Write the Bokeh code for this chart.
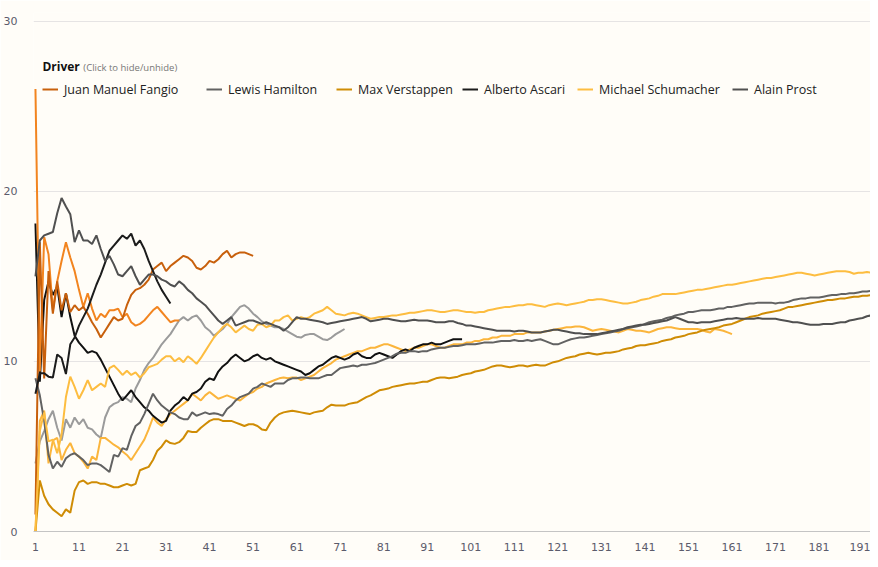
from bokeh.plotting import figure
from bokeh.models import FixedTicker, Label, Legend
from bokeh.embed import file_html
from bokeh.resources import INLINE

# ---- data: one value per race (race number = position in list, starting at 1) ----
fangio = [1.0, 17.0, 9.0, 15.3, 12.8, 14.7, 13.0, 14.0, 12.9, 13.3,
          13.0, 13.2, 12.8, 12.3, 11.9, 11.4, 11.8, 12.2, 12.6, 12.4,
          12.5, 13.3, 13.9, 14.2, 14.3, 14.5, 14.8, 15.4, 15.6, 15.8,
          15.3, 15.6, 15.8, 16.0, 16.2, 16.1, 15.9, 15.5, 15.4, 15.6,
          15.9, 15.8, 16.0, 16.3, 16.5, 16.1, 16.3, 16.4, 16.4, 16.3, 16.2]

driver_orange_2 = [26.0, 9.4, 17.3, 16.3, 13.0, 14.7, 15.9, 17.0, 16.1, 15.3,
                   14.2, 13.2, 14.0, 13.1, 12.4, 12.8, 12.6, 13.0, 13.0, 13.1,
                   12.6, 12.8, 12.3, 12.1, 12.2, 12.4, 12.7, 13.0, 13.2, 12.9,
                   12.6, 12.3, 12.4, 12.4]

hamilton = [9.0, 8.0, 6.5, 4.5, 3.7, 4.1, 3.8, 4.3, 4.5, 4.6,
            4.4, 4.2, 3.9, 4.0, 4.0, 3.9, 3.7, 3.5, 4.5, 4.4,
            4.9, 4.8, 5.6, 6.2, 6.4, 6.9, 7.5, 8.1, 7.7, 7.4,
            7.2, 7.0, 6.9, 6.7, 6.6, 6.6, 7.0, 6.8, 6.9, 7.0,
            6.9, 6.95, 6.9, 6.8, 7.2, 7.4, 7.7, 7.9, 8.0, 8.1,
            8.4, 8.5, 8.7, 8.6, 8.5, 8.7, 8.7, 8.7, 8.9, 9.0,
            9.0, 9.05, 9.05, 9.0, 9.0, 9.0, 9.1, 9.2, 9.2, 9.4,
            9.6, 9.65, 9.7, 9.75, 9.7, 9.8, 9.8, 9.85, 9.9, 10.0,
            10.1, 10.2, 10.3, 10.45, 10.5, 10.5, 10.6, 10.6, 10.55, 10.6,
            10.6, 10.7, 10.75, 10.8, 10.8, 10.85, 10.9, 10.9, 10.95, 11.0,
            11.0, 11.0, 11.05, 11.1, 11.1, 11.1, 11.15, 11.2, 11.2, 11.2,
            11.25, 11.2, 11.2, 11.25, 11.2, 11.25, 11.3, 11.2, 11.1, 11.0,
            11.0, 11.1, 11.2, 11.3, 11.35, 11.4, 11.4, 11.45, 11.5, 11.55,
            11.6, 11.65, 11.7, 11.75, 11.8, 11.9, 11.95, 12.0, 12.05, 12.1,
            12.2, 12.3, 12.35, 12.4, 12.45, 12.55, 12.6, 12.7, 12.75, 12.8,
            12.9, 12.9, 12.95, 13.0, 13.0, 13.0, 13.05, 13.1, 13.1, 13.2,
            13.2, 13.25, 13.3, 13.35, 13.4, 13.4, 13.45, 13.45, 13.45, 13.45,
            13.4, 13.45, 13.45, 13.5, 13.6, 13.65, 13.7, 13.7, 13.75, 13.75,
            13.75, 13.8, 13.85, 13.9, 13.9, 13.95, 13.95, 14.0, 14.0, 14.05,
            14.1, 14.1, 14.15]

verstappen = [0.0, 3.0, 2.1, 1.6, 1.3, 1.1, 0.9, 1.3, 1.1, 2.4,
              2.9, 3.0, 2.8, 2.9, 2.9, 2.8, 2.8, 2.7, 2.6, 2.6,
              2.7, 2.8, 2.7, 2.8, 3.6, 3.7, 3.8, 4.2, 4.75, 5.0,
              5.35, 5.2, 5.15, 5.25, 5.5, 5.9, 5.85, 5.85, 6.1, 6.3,
              6.5, 6.6, 6.6, 6.5, 6.5, 6.5, 6.4, 6.3, 6.2, 6.3,
              6.3, 6.2, 6.0, 5.95, 6.4, 6.7, 6.9, 7.0, 7.05, 7.1,
              7.05, 7.0, 6.95, 6.9, 7.0, 7.05, 7.1, 7.3, 7.45, 7.4,
              7.4, 7.4, 7.5, 7.55, 7.6, 7.75, 7.9, 8.0, 8.15, 8.3,
              8.35, 8.4, 8.5, 8.55, 8.6, 8.65, 8.7, 8.7, 8.75, 8.8,
              8.8, 8.9, 9.0, 9.05, 9.05, 9.0, 9.05, 9.1, 9.2, 9.25,
              9.3, 9.4, 9.45, 9.5, 9.6, 9.7, 9.75, 9.75, 9.7, 9.65,
              9.7, 9.75, 9.75, 9.7, 9.75, 9.8, 9.75, 9.75, 9.85, 9.95,
              10.0, 10.1, 10.2, 10.25, 10.3, 10.4, 10.45, 10.5, 10.45, 10.4,
              10.45, 10.5, 10.5, 10.55, 10.6, 10.7, 10.75, 10.8, 10.9, 10.95,
              10.95, 11.0, 11.05, 11.1, 11.2, 11.25, 11.3, 11.4, 11.45, 11.5,
              11.6, 11.65, 11.7, 11.8, 11.85, 11.9, 11.95, 12.0, 12.1, 12.15,
              12.2, 12.3, 12.4, 12.5, 12.6, 12.65, 12.7, 12.8, 12.85, 12.9,
              12.95, 13.0, 13.1, 13.2, 13.2, 13.25, 13.3, 13.35, 13.4, 13.45,
              13.5, 13.55, 13.6, 13.6, 13.65, 13.7, 13.7, 13.75, 13.8, 13.8,
              13.85, 13.85, 13.9]

ascari = [8.1, 9.3, 9.3, 9.1, 9.05, 10.4, 10.2, 9.25, 11.0, 11.4,
          12.1, 12.6, 13.1, 13.8, 14.5, 15.1, 15.8, 16.5, 16.8, 17.1,
          17.4, 17.2, 17.5, 16.8, 17.1, 16.6, 15.9, 15.3, 14.7, 14.2,
          13.8, 13.4]

schumacher = [0.0, 5.9, 7.0, 5.3, 5.4, 4.6, 5.7, 7.9, 9.1, 8.5,
              7.8, 8.3, 8.9, 8.3, 8.5, 8.7, 8.5, 9.6, 9.75, 9.5,
              9.2, 9.45, 9.2, 9.35, 9.05, 9.3, 9.65, 9.75, 9.85, 10.1,
              10.3, 10.3, 10.0, 10.2, 9.95, 10.3, 10.1, 9.85, 10.2, 10.6,
              11.0, 11.4, 11.7, 12.0, 12.2, 12.0, 11.7, 11.9, 12.1, 11.9,
              11.8, 12.15, 12.2, 12.0, 12.1, 12.4, 12.4, 12.6, 12.7, 12.4,
              12.5, 12.6, 12.5, 12.6, 12.8, 12.9, 13.0, 13.2, 13.0, 12.8,
              12.75, 12.7, 12.8, 12.85, 12.8, 12.7, 12.6, 12.5, 12.55, 12.6,
              12.6, 12.65, 12.7, 12.7, 12.75, 12.8, 12.85, 12.85, 12.9, 12.95,
              13.0, 13.0, 12.95, 12.9, 12.9, 12.95, 13.0, 13.0, 12.95, 12.9,
              12.9, 12.85, 12.9, 12.9, 13.0, 13.05, 13.1, 13.15, 13.2, 13.2,
              13.25, 13.3, 13.3, 13.35, 13.35, 13.3, 13.25, 13.2, 13.3, 13.35,
              13.4, 13.35, 13.3, 13.35, 13.4, 13.45, 13.5, 13.6, 13.6, 13.65,
              13.65, 13.6, 13.55, 13.5, 13.45, 13.4, 13.4, 13.45, 13.5, 13.6,
              13.65, 13.7, 13.8, 13.85, 13.95, 13.95, 13.95, 13.95, 14.0, 14.05,
              14.1, 14.15, 14.2, 14.2, 14.25, 14.3, 14.35, 14.4, 14.45, 14.5,
              14.5, 14.55, 14.6, 14.65, 14.7, 14.75, 14.8, 14.85, 14.9, 14.9,
              14.95, 15.0, 15.05, 15.1, 15.15, 15.2, 15.2, 15.15, 15.1, 15.05,
              15.1, 15.15, 15.2, 15.25, 15.3, 15.3, 15.3, 15.25, 15.15, 15.2,
              15.2, 15.25, 15.2]

prost = [15.0, 17.1, 17.4, 17.5, 17.6, 18.7, 19.6, 19.1, 18.65, 17.0,
         17.7, 17.1, 17.1, 16.9, 17.4, 16.6, 15.9, 16.2, 15.7, 15.1,
         15.0, 15.3, 15.6, 15.0, 14.5, 14.8, 15.1, 15.1, 15.0, 14.8,
         14.7, 14.5, 14.4, 14.7, 14.5, 14.2, 14.0, 13.7, 13.5, 13.3,
         13.0, 12.7, 12.4, 12.2, 12.4, 12.6, 12.1, 12.2, 12.3, 12.4,
         12.4, 12.3, 12.2, 12.3, 12.2, 12.1, 12.0, 11.8, 12.0, 12.3,
         12.6, 12.5, 12.5, 12.45, 12.4, 12.35, 12.3, 12.2, 12.25, 12.3,
         12.35, 12.4, 12.45, 12.5, 12.55, 12.6, 12.5, 12.35, 12.4, 12.45,
         12.5, 12.5, 12.45, 12.4, 12.35, 12.35, 12.4, 12.45, 12.4, 12.4,
         12.4, 12.35, 12.3, 12.3, 12.3, 12.35, 12.35, 12.25, 12.2, 12.1,
         12.1, 12.05, 12.0, 11.95, 11.9, 11.85, 11.8, 11.8, 11.8, 11.8,
         11.75, 11.8, 11.8, 11.75, 11.7, 11.7, 11.7, 11.75, 11.8, 11.85,
         11.85, 11.8, 11.75, 11.7, 11.65, 11.65, 11.6, 11.6, 11.6, 11.6,
         11.65, 11.7, 11.75, 11.8, 11.85, 11.9, 12.0, 12.05, 12.1, 12.15,
         12.15, 12.2, 12.25, 12.3, 12.35, 12.4, 12.5, 12.6, 12.5, 12.4,
         12.3, 12.3, 12.25, 12.3, 12.3, 12.3, 12.35, 12.4, 12.45, 12.5,
         12.5, 12.55, 12.5, 12.5, 12.5, 12.5, 12.55, 12.5, 12.5, 12.5,
         12.5, 12.45, 12.4, 12.35, 12.3, 12.3, 12.25, 12.2, 12.15, 12.15,
         12.15, 12.2, 12.2, 12.2, 12.25, 12.3, 12.3, 12.4, 12.45, 12.5,
         12.55, 12.65, 12.7]

driver_grey_light = [4.0, 5.3, 5.9, 6.6, 7.1, 6.1, 5.35, 6.6, 6.1, 6.7,
                     6.3, 6.6, 6.1, 6.0, 5.7, 5.5, 6.7, 7.3, 7.5, 7.6,
                     7.9, 7.8, 7.6, 8.4, 8.9, 9.5, 9.9, 10.2, 10.6, 11.0,
                     11.3, 11.6, 12.0, 12.4, 12.6, 12.4, 12.6, 12.7, 12.4, 12.0,
                     11.8, 11.5, 11.7, 11.9, 12.2, 12.6, 12.9, 13.2, 13.3, 13.1,
                     12.8, 12.6, 12.35, 12.2, 12.1, 12.0, 12.0, 11.9, 11.75, 11.6,
                     11.45, 11.4, 11.55, 11.6, 11.6, 11.45, 11.3, 11.25, 11.4, 11.6,
                     11.75, 11.9]

driver_black_2 = [18.1, 8.8, 13.6, 14.7, 13.9, 14.4, 12.6, 14.0, 12.6, 11.5,
                  11.1, 10.8, 10.5, 10.6, 10.5, 10.1, 9.6, 9.1, 8.6, 8.1,
                  7.7, 8.0, 8.3, 7.9, 7.6, 7.3, 7.1, 6.8, 6.6, 6.4,
                  6.5, 7.1, 7.4, 7.6, 7.9, 7.7, 8.1, 8.2, 8.4, 8.8,
                  9.0, 8.9, 9.4, 9.7, 9.9, 10.2, 10.4, 10.2, 10.0, 10.1,
                  10.3, 10.4, 10.2, 10.1, 10.2, 10.0, 9.9, 9.8, 9.7, 9.6,
                  9.5, 9.4, 9.2, 9.3, 9.5, 9.7, 9.8, 10.0, 10.2, 10.3,
                  10.2, 10.1, 10.2, 10.4, 10.5, 10.3, 10.2, 10.2, 10.4, 10.5,
                  10.4, 10.3, 10.2, 10.4, 10.6, 10.7, 10.6, 10.8, 10.9, 11.0,
                  11.0, 11.1, 11.0, 11.0, 11.1, 11.2, 11.3, 11.3, 11.3]

driver_yellow_2 = [0.0, 6.5, 7.1, 4.0, 5.35, 5.5, 4.2, 4.8, 5.2, 4.6,
                   4.4, 4.1, 3.7, 4.4, 4.2, 5.5, 5.5, 5.3, 5.1, 4.95,
                   4.7, 4.5, 4.2, 4.6, 5.0, 5.4, 6.0, 6.7, 6.4, 6.2,
                   6.6, 6.9, 7.1, 7.3, 7.5, 7.7, 8.1, 7.9, 7.7, 8.0,
                   8.2, 8.0, 7.8, 7.9, 8.0, 7.9, 7.8, 7.7, 7.9, 8.1,
                   8.2, 8.4, 8.5, 8.7, 8.8, 8.9, 9.0, 9.05, 9.0, 9.05,
                   9.05, 8.9, 9.0, 9.1, 9.2, 9.4, 9.6, 9.75, 9.9, 10.1,
                   10.2, 10.3, 10.4, 10.5, 10.6, 10.6, 10.7, 10.8, 10.8, 10.9,
                   11.0, 11.0, 10.9, 10.8, 10.7, 10.6, 10.7, 10.8, 10.8, 10.9,
                   11.0, 11.0, 10.9, 10.8, 10.8, 10.9, 11.0, 11.0, 11.0, 11.1,
                   11.1, 11.2, 11.2, 11.3, 11.3, 11.4, 11.4, 11.5, 11.5, 11.5,
                   11.6, 11.6, 11.6, 11.7, 11.7, 11.7, 11.7, 11.75, 11.8, 11.85,
                   11.9, 11.95, 12.0, 12.0, 12.05, 12.05, 12.0, 11.9, 11.8, 11.85,
                   11.9, 11.85, 11.8, 11.75, 11.7, 11.8, 11.9, 11.85, 11.8, 11.8,
                   11.75, 11.7, 11.8, 11.9, 11.95, 12.0, 12.0, 11.95, 11.9, 11.9,
                   11.9, 11.9, 11.9, 11.85, 11.75, 11.7, 11.9, 11.85, 11.8, 11.7,
                   11.6]

x_ticks = [1, 11, 21, 31, 41, 51, 61, 71, 81, 91, 101, 111, 121, 131, 141, 151, 161, 171, 181, 191]
y_ticks = [0, 10, 20, 30]

BG = "#fffdf8"

p = figure(width=870, height=560, output_backend="svg", toolbar_location=None,
           x_range=(0.55, 192.82), y_range=(0, 30.5),
           min_border_left=25, min_border_right=0, min_border_top=12, min_border_bottom=29)
p.background_fill_color = BG
p.border_fill_color = BG
p.outline_line_alpha = 0

p.xgrid.grid_line_color = None
p.ygrid.grid_line_color = "#e6e4e4"
p.ygrid.grid_line_width = 1
p.xaxis.ticker = FixedTicker(ticks=x_ticks)
p.yaxis.ticker = FixedTicker(ticks=y_ticks)
for ax in (p.xaxis, p.yaxis):
    ax.major_tick_line_color = None
    ax.minor_tick_line_color = None
    ax.major_label_text_font = "DejaVu Sans"
    ax.major_label_text_font_size = "11px"
    ax.major_label_text_color = "#5b5b6b"
p.yaxis.axis_line_color = None
p.xaxis.axis_line_color = "#c4c4c4"
p.xaxis.major_label_standoff = 5
p.yaxis.major_label_standoff = 10

def rng(v):
    return list(range(1, len(v) + 1))

LW = 2
# extra drivers (not listed in the visible legend row)
p.line(rng(driver_grey_light), driver_grey_light, line_color="#9b9b9b", line_width=LW)
p.line(rng(driver_yellow_2), driver_yellow_2, line_color="#fbb53c", line_width=LW)
p.line(rng(driver_black_2), driver_black_2, line_color="#111111", line_width=LW)
p.line(rng(driver_orange_2), driver_orange_2, line_color="#f2841f", line_width=LW)

r_fangio = p.line(rng(fangio), fangio, line_color="#c8600c", line_width=LW)
r_ham = p.line(rng(hamilton), hamilton, line_color="#626262", line_width=LW)
r_ver = p.line(rng(verstappen), verstappen, line_color="#cf8c05", line_width=LW)
r_asc = p.line(rng(ascari), ascari, line_color="#1c1c1c", line_width=LW)
r_sch = p.line(rng(schumacher), schumacher, line_color="#fdbd40", line_width=LW)
r_pro = p.line(rng(prost), prost, line_color="#505050", line_width=LW)

legend_names = ["Juan Manuel Fangio", "Lewis Hamilton", "Max Verstappen",
                "Alberto Ascari", "Michael Schumacher", "Alain Prost"]
legend_renderers = [r_fangio, r_ham, r_ver, r_asc, r_sch, r_pro]
legend_x = [9, 173, 303, 429, 544, 699]  # screen offset of each entry from the frame's left edge

for name, rend, lx in zip(legend_names, legend_renderers, legend_x):
    lg = Legend(items=[(name, [rend])], orientation="horizontal", location=(lx, 432))
    lg.padding = 0
    lg.margin = 0
    lg.spacing = 0
    lg.glyph_width = 16
    lg.glyph_height = 20
    lg.label_height = 20
    lg.label_standoff = 6
    lg.label_text_font = "Open Sans"
    lg.label_text_font_size = "12.5px"
    lg.label_text_color = "#222222"
    lg.border_line_alpha = 0
    lg.background_fill_alpha = 0
    lg.click_policy = "hide"
    p.add_layout(lg, "center")

p.add_layout(Label(x=2.6, y=27.3, text="Driver", text_font="Open Sans", text_font_style="bold",
                   text_font_size="12px", text_color="#111111", text_baseline="middle"))
p.add_layout(Label(x=12.0, y=27.25, text="(Click to hide/unhide)", text_font="Open Sans",
                   text_font_size="9.5px", text_color="#777777", text_baseline="middle"))

open("out.html", "w").write(file_html(p, INLINE))
